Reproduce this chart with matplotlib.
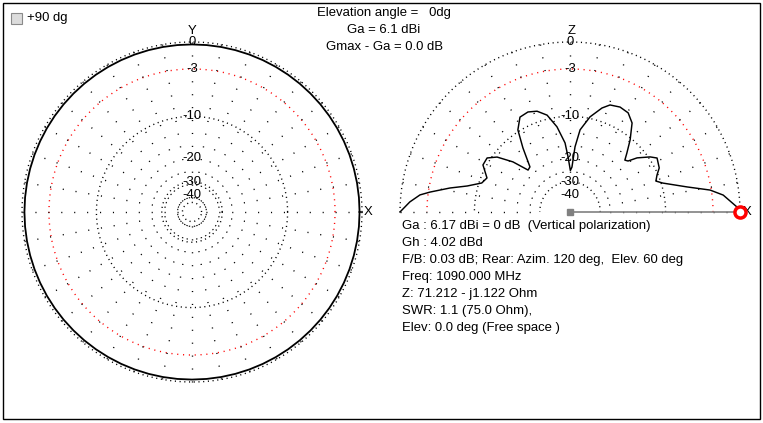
import numpy as np
import matplotlib
matplotlib.use("Agg")
import matplotlib.pyplot as plt
from matplotlib.patches import Rectangle

plt.rcParams['font.family'] = ['Liberation Sans', 'DejaVu Sans']

W, H = 763, 423
FS = 9.45

# ====== data ======
# elevation pattern, angle from horizon (deg) -> gain relative to max (dB)
elev_deg = [0, 1.4, 6.3, 8.9, 12.1, 17.3, 19.8, 23, 26.3, 31.8, 34.5, 38.9, 41.3,
            43.4, 46, 50.2, 55.1, 59.6, 64.5, 69.5, 72.9, 78.1, 83, 85.6, 87.5,
            89.5, 92, 94.1, 98.7, 103.3, 108.1, 112.8, 117.8, 122.4, 126.3, 131.6,
            135, 138.7, 143, 146.9, 151.6, 157.7, 161.8, 165.8, 168.7, 171.9,
            173.5, 176.4, 180]
elev_gain_db = [0, -0.2, -1.7, -3.15, -6.1, -9.7, -10.8, -10.2, -9.3, -8.8, -9.7,
                -11.8, -13.7, -14.1, -12.7, -10.3, -7.8, -6.8, -6.6, -6.9, -7.75,
                -9.7, -12.5, -16.6, -23.1, -24.5, -19.6, -15.6, -11.8, -9.3, -8.2,
                -7.8, -8.0, -9.7, -13.2, -18.0, -18.3, -14.0, -10.8, -9.4, -9.4,
                -11.1, -10.5, -8.2, -5.7, -3.2, -2.06, -1.0, 0]

# azimuth pattern (omni)
az_deg = list(range(0, 361, 5))
az_gain_db = [-0.25] * len(az_deg)

ring_db = [0, -10, -30, -50]
red_ring_db = -3
label_db = [0, -3, -10, -20, -30, -40]
max_dir_deg = 0.0

header_lines = ["Elevation angle =   0dg", "Ga = 6.1 dBi", "Gmax - Ga = 0.0 dB"]
info_lines = ["Ga : 6.17 dBi = 0 dB  (Vertical polarization)",
              "Gh : 4.02 dBd",
              "F/B: 0.03 dB; Rear: Azim. 120 deg,  Elev. 60 deg",
              "Freq: 1090.000 MHz",
              "Z: 71.212 - j1.122 Ohm",
              "SWR: 1.1 (75.0 Ohm),",
              "Elev: 0.0 deg (Free space )"]


def to_r(db):
    # MMANA style scale
    return 10 ** (np.asarray(db, dtype=float) / 40.0)


def draw_grid(ax, t0, t1, inner_db):
    th = np.radians(np.linspace(t0, t1, 721))
    for db in ring_db:
        if db < inner_db:
            continue
        ax.plot(th, np.full_like(th, to_r(db)), color='black', lw=1.0,
                ls=(0, (0.8, 2.6)), clip_on=False)
    ax.plot(th, np.full_like(th, to_r(red_ring_db)), color='red', lw=1.0,
            ls=(0, (0.8, 3.4)), clip_on=False)
    for a in range(t0, t1 + 1, 10):
        if a == 360:
            continue
        ax.plot([np.radians(a)] * 2, [1, to_r(inner_db)], color='black', lw=1.0,
                ls=(0, (0.8, 8.5)), clip_on=False)
    for db in label_db:
        ax.text(np.pi / 2, to_r(db), str(db), ha='center', va='center', fontsize=FS)


fig = plt.figure(figsize=(W / 100, H / 100), dpi=100)

bg = fig.add_axes([0, 0, 1, 1])
bg.set_xlim(0, W)
bg.set_ylim(H, 0)
bg.axis('off')
bg.add_patch(Rectangle((3, 3), 757, 416, fill=False, edgecolor='black', lw=1))
bg.add_patch(Rectangle((11, 13), 11, 11, facecolor='#dcdcdc', edgecolor='#8a8a8a', lw=0.8))
bg.text(27, 18.5, "+90 dg", ha='left', va='center', fontsize=FS)
for i, s in enumerate(header_lines):
    bg.text(384, 13 + 17 * i, s, ha='center', va='center', fontsize=FS)
for i, s in enumerate(info_lines):
    bg.text(402, 226 + 17 * i, s, ha='left', va='center', fontsize=FS)

# ====== azimuth plot (left) ======
ax1 = fig.add_axes([22 / W, 41 / H, 340 / W, 340 / H], projection='polar')
ax1.set_axis_off()
ax1.set_rlim(0, 1)
draw_grid(ax1, 0, 360, -50)
ax1.plot(np.radians(az_deg), to_r(az_gain_db), color='black', lw=1.3, clip_on=False)
bg.text(192, 31, "Y", ha='center', va='center', fontsize=FS)
bg.text(368, 212, "X", ha='center', va='center', fontsize=FS)

# ====== elevation plot (right) ======
ax2 = fig.add_axes([400 / W, 41 / H, 340 / W, 340 / H], projection='polar')
ax2.set_axis_off()
ax2.set_rlim(0, 1)
draw_grid(ax2, 0, 180, -30)
ax2.plot(np.radians(elev_deg), to_r(elev_gain_db), color='black', lw=1.05, clip_on=False)
ax2.plot([np.radians(max_dir_deg)] * 2, [0, 1], color='#808080', lw=1.2, clip_on=False)
ax2.plot([0], [0], marker='s', ms=4, color='#808080', clip_on=False)
ax2.plot([np.radians(max_dir_deg)], [1], marker='o', ms=8, mfc='white', mec='red',
         mew=2.5, clip_on=False)
bg.text(572, 31, "Z", ha='center', va='center', fontsize=FS)
bg.text(747, 212, "X", ha='center', va='center', fontsize=FS)

fig.savefig("out.png", dpi=100)
